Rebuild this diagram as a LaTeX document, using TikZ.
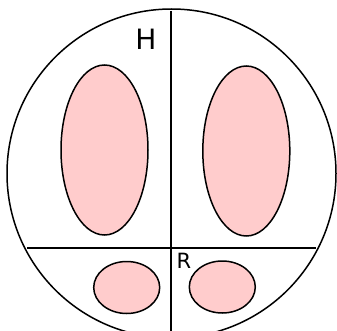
\documentclass[tikz,border=0pt]{standalone}
\usepackage{fontspec}
\setmainfont{DejaVu Sans}
\usetikzlibrary{shapes.geometric}
\definecolor{lobe}{HTML}{FFCCCC}
\tikzset{
  lobe/.style={ellipse, draw=black, fill=lobe, line width=1.5pt, inner sep=0pt, outer sep=0pt},
  rim/.style={circle, draw=black, line width=1.5pt, inner sep=0pt, outer sep=0pt, minimum size=329pt},
  divider/.style={draw=black, line width=1.5pt},
  lbl/.style={inner sep=0pt, text=black}
}
\begin{document}
\begin{tikzpicture}[x=1pt,y=-1pt]
\useasboundingbox (0,0) rectangle (337,331);
\clip (0,0) rectangle (337,331);
\node[rim] (rim) at (171.5,173.5) {};
\coordinate (vt) at (171,11);
\coordinate (vb) at (171,335);
\coordinate (hl) at (27,248);
\coordinate (hr) at (316,248);
\draw[divider] (vt) -- (vb);
\draw[divider] (hl) -- (hr);
\node[lobe, minimum width=87pt, minimum height=170pt] (ul) at (104.5,150) {};
\node[lobe, minimum width=87pt, minimum height=170pt] (ur) at (246.3,151) {};
\node[lobe, minimum width=66pt, minimum height=52pt] (ll) at (126.7,287.5) {};
\node[lobe, minimum width=66pt, minimum height=52pt] (lr) at (222.3,287) {};
\node[lbl, font=\fontsize{28}{28}\selectfont] (H) at (146,39) {H};
\node[lbl, font=\fontsize{21}{21}\selectfont] (R) at (184,261) {R};
\end{tikzpicture}
\end{document}
